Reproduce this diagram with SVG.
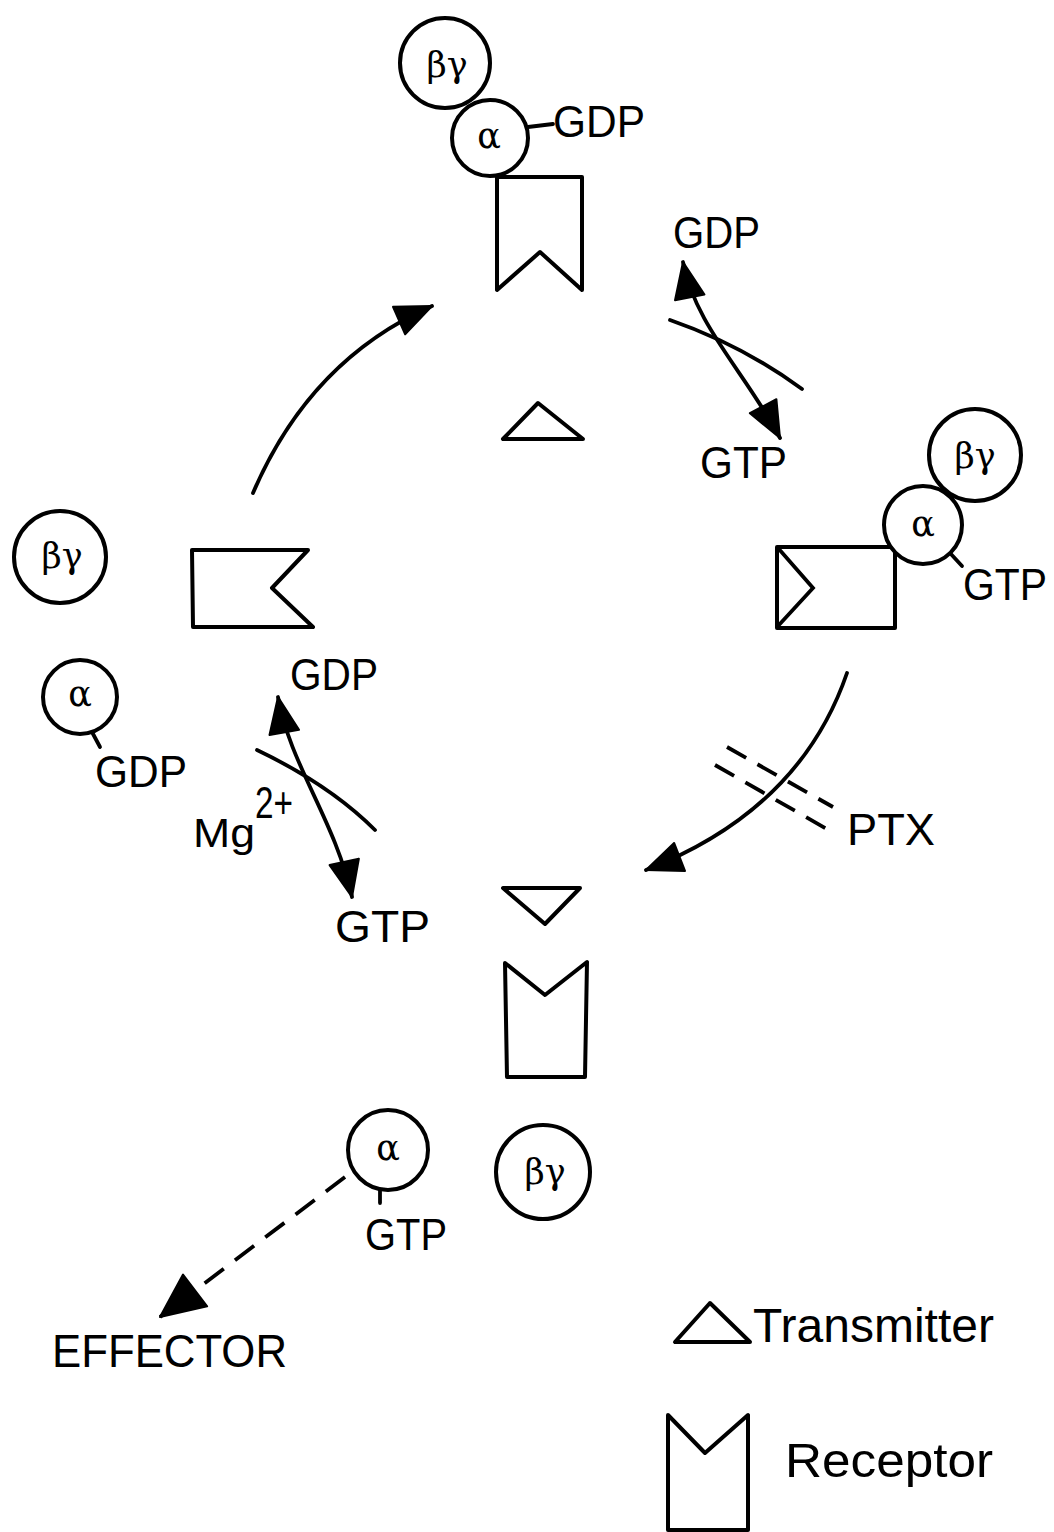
<svg xmlns="http://www.w3.org/2000/svg" width="1054" height="1532" viewBox="0 0 1054 1532">
<style>
.s{fill:#fff;stroke:#000;stroke-width:4;stroke-linejoin:round;stroke-linecap:round}
.c{fill:none;stroke:#000;stroke-width:3.8;stroke-linecap:round}
.d{fill:none;stroke:#000;stroke-width:3.8;stroke-dasharray:22 13}
.t{font-family:"Liberation Sans",Arial,sans-serif;font-size:44px;fill:#000}
.g{font-family:"DejaVu Serif","Liberation Serif",serif;font-size:35px;fill:#000;text-anchor:middle}
</style>
<defs>
<marker id="ah" viewBox="-40 -17 42 34" refX="0" refY="0" markerWidth="42" markerHeight="34" markerUnits="userSpaceOnUse" orient="auto-start-reverse">
<path d="M0,0 L-36,-15 L-36,15 Z" fill="#000" stroke="#000" stroke-width="2" stroke-linejoin="round"/>
</marker>
<marker id="ahL" viewBox="-48 -22 50 44" refX="0" refY="0" markerWidth="50" markerHeight="44" markerUnits="userSpaceOnUse" orient="auto">
<path d="M0,0 L-44,-20 L-44,20 Z" fill="#000" stroke="#000" stroke-width="2" stroke-linejoin="round"/>
</marker>
</defs>
<rect width="1054" height="1532" fill="#fff"/>

<g id="connectors">
<path class="c" d="M253,493 Q 310,360 432,306" marker-end="url(#ah)"/>
<path class="c" d="M683,262 C 695,325 745,372 780,438" marker-start="url(#ah)" marker-end="url(#ah)"/>
<path class="c" d="M670,320 Q 742,345 802,389"/>
<path class="c" d="M847,673 Q 800,810 646,870" marker-end="url(#ah)"/>
<path class="d" d="M727,747 L833,807"/>
<path class="d" d="M715,765 L832,832"/>
<path class="c" d="M278,697 C 290,765 335,820 352,897" marker-start="url(#ah)" marker-end="url(#ah)"/>
<path class="c" d="M257,750 Q 330,785 375,830"/>
<path class="d" d="M345,1177 L160,1317" marker-end="url(#ahL)" style="stroke-dasharray:24 14"/>
</g>

<g id="receptor-top">
<path class="s" d="M497,177 L582,177 L582,290 L540,252 L497,290 Z"/>
</g>
<g id="gprotein-top">
<circle class="s" cx="445" cy="63" r="45"/>
<text class="g" x="447" y="77">βγ</text>
<line class="c" x1="528" y1="127" x2="553" y2="124"/>
<circle class="s" cx="490" cy="138" r="38"/>
<text class="g" x="489" y="148">α</text>
<text class="t" x="553" y="137" textLength="92" lengthAdjust="spacingAndGlyphs">GDP</text>
</g>

<g id="transmitter-top">
<path class="s" d="M538,403 L503,439 L583,439 Z"/>
</g>

<g id="exchange-top">
<text class="t" x="673" y="248" textLength="87" lengthAdjust="spacingAndGlyphs">GDP</text>
<text class="t" x="700" y="478" textLength="87" lengthAdjust="spacingAndGlyphs">GTP</text>
</g>

<g id="receptor-right">
<rect class="s" x="777" y="547" width="118" height="81"/>
<path class="c" d="M778,548 L813,588 L778,626"/>
</g>
<g id="gprotein-right">
<circle class="s" cx="975" cy="455" r="46"/>
<text class="g" x="975" y="468">βγ</text>
<line class="c" x1="950" y1="553" x2="962" y2="566"/>
<circle class="s" cx="923" cy="525" r="39"/>
<text class="g" x="923" y="536">α</text>
<text class="t" x="963" y="600" textLength="84" lengthAdjust="spacingAndGlyphs">GTP</text>
</g>

<g id="ptx">
<text class="t" x="847" y="845" textLength="88" lengthAdjust="spacingAndGlyphs">PTX</text>
</g>

<g id="bg-left">
<circle class="s" cx="60" cy="557" r="46"/>
<text class="g" x="62" y="568">βγ</text>
</g>
<g id="receptor-left">
<path class="s" d="M192,550 L308,550 L272,588 L313,627 L193,627 Z"/>
</g>
<g id="alpha-left">
<line class="c" x1="92" y1="732" x2="100" y2="747"/>
<circle class="s" cx="80" cy="697" r="37"/>
<text class="g" x="80" y="706">α</text>
<text class="t" x="95" y="787" textLength="92" lengthAdjust="spacingAndGlyphs">GDP</text>
</g>
<g id="exchange-left">
<text class="t" x="290" y="690" textLength="88" lengthAdjust="spacingAndGlyphs">GDP</text>
<text class="t" x="193" y="847" style="font-size:40px" textLength="62" lengthAdjust="spacingAndGlyphs">Mg</text>
<text class="t" x="255" y="818" style="font-size:44px" textLength="38" lengthAdjust="spacingAndGlyphs">2+</text>
<text class="t" x="335" y="942" textLength="95" lengthAdjust="spacingAndGlyphs">GTP</text>
</g>

<g id="transmitter-bottom">
<path class="s" d="M503,888 L580,888 L545,924 Z"/>
</g>
<g id="receptor-bottom">
<path class="s" d="M505,963 L545,995 L587,962 L585,1077 L507,1077 Z"/>
</g>

<g id="alpha-bottom">
<line class="c" x1="380" y1="1190" x2="380" y2="1203"/>
<circle class="s" cx="388" cy="1150" r="40"/>
<text class="g" x="388" y="1160">α</text>
<text class="t" x="365" y="1250" textLength="82" lengthAdjust="spacingAndGlyphs">GTP</text>
</g>
<g id="bg-bottom">
<circle class="s" cx="543" cy="1172" r="47"/>
<text class="g" x="545" y="1184">βγ</text>
</g>

<g id="effector">
<text class="t" x="52" y="1367" style="font-size:46px" textLength="235" lengthAdjust="spacingAndGlyphs">EFFECTOR</text>
</g>

<g id="legend-transmitter">
<path class="s" d="M710,1303 L675,1342 L750,1342 Z"/>
<text class="t" x="753" y="1342" style="font-size:48px" textLength="241" lengthAdjust="spacingAndGlyphs">Transmitter</text>
</g>
<g id="legend-receptor">
<path class="s" d="M668,1415 L705,1453 L748,1415 L748,1530 L668,1530 Z"/>
<text class="t" x="785" y="1477" style="font-size:48px" textLength="208" lengthAdjust="spacingAndGlyphs">Receptor</text>
</g>
</svg>
